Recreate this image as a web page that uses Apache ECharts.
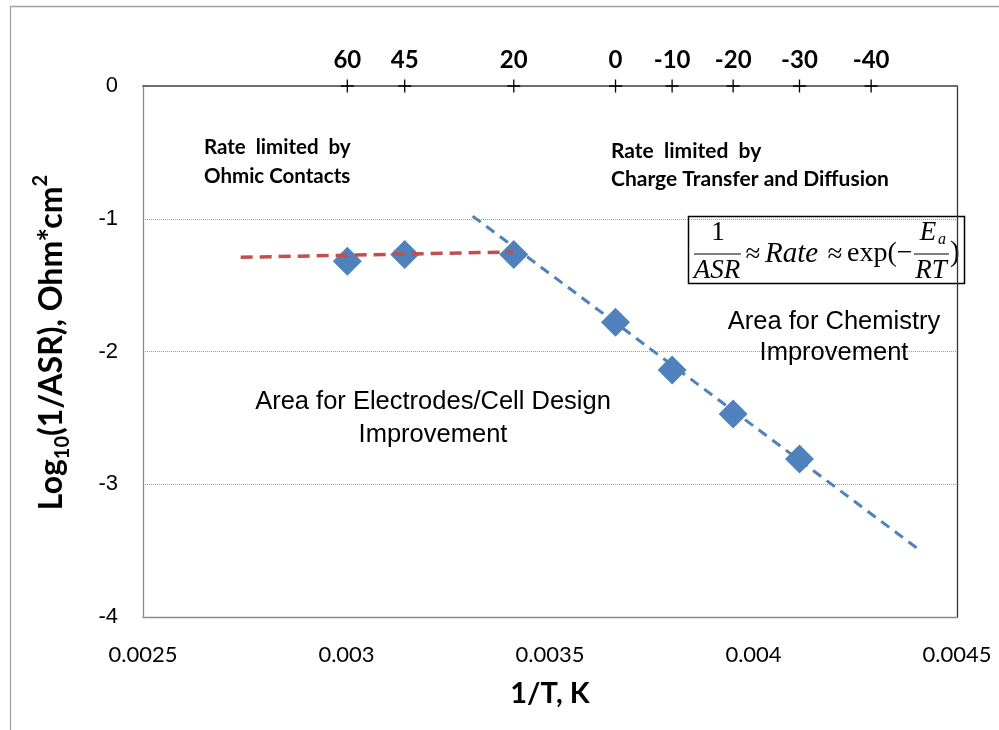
<!DOCTYPE html>
<html>
<head>
<meta charset="utf-8">
<script src="https://cdn.jsdelivr.net/npm/echarts@6/dist/echarts.min.js"></script>
<style>html,body{margin:0;padding:0;background:#fff;}#c{width:999px;height:730px;}</style>
</head>
<body>
<div id="c"></div>
<script>
// ---- data ----
const invT = [0.003002, 0.003143, 0.003411, 0.003661, 0.0038, 0.00395, 0.004113];
const logRate = [-1.32, -1.27, -1.27, -1.78, -2.14, -2.47, -2.81];
const ohmicFitX = [0.00274, 0.00341];
const ohmicFitY = [-1.29, -1.25];
const chargeFitX = [0.00331, 0.00441];
const chargeFitY = [-0.98, -3.50];
const tempLabels = ['60', '45', '20', '0', '-10', '-20', '-30', '-40'];
const tempInvT = [0.003002, 0.003143, 0.003411, 0.003661, 0.0038, 0.00395, 0.004113, 0.004289];
const xTicks = { min: 0.0025, max: 0.0045, interval: 0.0005 };
const yTicks = { min: -4, max: 0, interval: 1 };

const zip = (a, b) => a.map((v, i) => [v, b[i]]);
const chart = echarts.init(document.getElementById('c'));
const calibri = 'Lato, "Open Sans", sans-serif';
const arial = '"Liberation Sans", Arial, sans-serif';
const serif = '"Liberation Serif", "DejaVu Serif", serif';
const plusPath = 'path://M5.4,0h1.2v5.4h5.4v1.2h-5.4v5.4h-1.2v-5.4h-5.4v-1.2h5.4z';

function ftext(x, y, text, size, italic, align) {
  return { type: 'text', x: x, y: y, style: { text: text, align: align || 'center', verticalAlign: 'middle',
    fontFamily: serif, fontStyle: italic ? 'italic' : 'normal', fontSize: size, fill: '#000' } };
}

chart.setOption({
  animation: false,
  backgroundColor: '#fff',
  grid: { left: 143, right: 42, top: 86, bottom: 113 },
  xAxis: [{
    type: 'value', min: xTicks.min, max: xTicks.max, interval: xTicks.interval,
    name: '1/T, K', nameLocation: 'middle', nameGap: 62,
    nameTextStyle: { fontFamily: calibri, fontWeight: 'bold', fontSize: 29, color: '#000' },
    axisLine: { show: true, onZero: false, lineStyle: { color: '#8c8c8c', width: 1.3 } },
    axisTick: { show: false },
    splitLine: { show: false },
    axisLabel: { margin: 27, fontFamily: calibri, fontSize: 22, color: '#000',
      formatter: v => String(+v.toFixed(4)) }
  }, {
    type: 'value', position: 'top', min: xTicks.min, max: xTicks.max, interval: xTicks.interval,
    axisLine: { show: true, onZero: false, lineStyle: { color: '#6e6e6e', width: 2 } },
    axisTick: { show: false }, axisLabel: { show: false }, splitLine: { show: false }
  }],
  yAxis: [{
    type: 'value', min: yTicks.min, max: yTicks.max, interval: yTicks.interval,
    name: '{m|Log}{sub|10}{m|(1/ASR), Ohm*cm}{sup|2}',
    nameLocation: 'middle', nameGap: 70,
    nameTextStyle: {
      padding: [0, 0, 0, 18],
      rich: {
        m: { fontFamily: calibri, fontWeight: 'bold', fontSize: 32, color: '#000', lineHeight: 42, verticalAlign: 'middle' },
        sub: { fontFamily: calibri, fontWeight: 'bold', fontSize: 20, color: '#000', lineHeight: 20, verticalAlign: 'bottom' },
        sup: { fontFamily: calibri, fontWeight: 'bold', fontSize: 20, color: '#000', lineHeight: 20, verticalAlign: 'top' }
      }
    },
    axisLine: { show: true, onZero: false, lineStyle: { color: '#8c8c8c', width: 1.3 } },
    axisTick: { show: false },
    splitLine: { show: true, lineStyle: { color: '#9a9a9a', type: 'dotted', width: 1 } },
    axisLabel: { margin: 25, fontFamily: arial, fontSize: 22, color: '#000' }
  }, {
    type: 'value', position: 'right', min: yTicks.min, max: yTicks.max, interval: yTicks.interval,
    axisLine: { show: true, onZero: false, lineStyle: { color: '#333', width: 1.3 } },
    axisTick: { show: false }, axisLabel: { show: false }, splitLine: { show: false }
  }],
  series: [{
    name: 'measured', type: 'scatter', z: 2,
    symbol: 'diamond', symbolSize: 29,
    itemStyle: { color: '#4F81BD', opacity: 1 },
    data: zip(invT, logRate)
  }, {
    name: 'ohmic fit', type: 'line', z: 3, symbol: 'none',
    lineStyle: { color: '#C0504D', width: 3.5, type: [12, 7] },
    data: zip(ohmicFitX, ohmicFitY)
  }, {
    name: 'charge fit', type: 'line', z: 3, symbol: 'none',
    lineStyle: { color: '#4F81BD', width: 3, type: [10, 7] },
    data: zip(chargeFitX, chargeFitY)
  }, {
    name: 'temperature', type: 'scatter', z: 4, clip: false,
    symbol: plusPath, symbolSize: 13,
    itemStyle: { color: '#000', opacity: 1 },
    label: { show: true, position: 'top', distance: 7,
      fontFamily: calibri, fontWeight: 'bold', fontSize: 24, color: '#000',
      formatter: p => tempLabels[p.dataIndex] },
    data: tempInvT.map(v => [v, 0])
  }],
  graphic: [
    { type: 'rect', shape: { x: 10.5, y: 6.5, width: 1200, height: 1000 },
      style: { fill: 'none', stroke: '#a0a0a0', lineWidth: 1.3 }, silent: true, z: 0 },
    { type: 'text', left: 204, top: 133, z: 10,
      style: { text: 'Rate  limited  by\nOhmic Contacts', fontFamily: calibri, fontWeight: 'bold', fontSize: 20.5, lineHeight: 29, fill: '#000' } },
    { type: 'text', left: 611, top: 137, z: 10,
      style: { text: 'Rate  limited  by\nCharge Transfer and Diffusion', fontFamily: calibri, fontWeight: 'bold', fontSize: 21, lineHeight: 28, fill: '#000' } },
    { type: 'text', x: 433, y: 418, z: 10,
      style: { text: 'Area for Electrodes/Cell Design\nImprovement', align: 'center', verticalAlign: 'middle',
        fontFamily: arial, fontSize: 25.5, lineHeight: 33, fill: '#000' } },
    { type: 'text', x: 834, y: 337, z: 10,
      style: { text: 'Area for Chemistry\nImprovement', align: 'center', verticalAlign: 'middle',
        fontFamily: arial, fontSize: 25.5, lineHeight: 31, fill: '#000' } },
    { type: 'group', z: 20, children: [
      { type: 'rect', shape: { x: 688.5, y: 216.5, width: 276, height: 67 },
        style: { fill: '#fff', stroke: '#000', lineWidth: 1.5 } },
      ftext(718, 233, '1', 27, false),
      { type: 'line', shape: { x1: 694, y1: 254, x2: 741, y2: 254 }, style: { stroke: '#000', lineWidth: 1.2 } },
      ftext(717, 271, 'ASR', 27, true),
      ftext(753, 255, '≈', 27, false),
      ftext(765, 254, 'Rate', 29, true, 'left'),
      ftext(835, 255, '≈', 27, false),
      ftext(847, 254, 'exp(−', 28, false, 'left'),
      { type: 'line', shape: { x1: 914, y1: 254, x2: 949, y2: 254 }, style: { stroke: '#000', lineWidth: 1.2 } },
      ftext(928, 233, 'E', 27, true),
      ftext(942, 240, 'a', 16, true),
      ftext(931, 271, 'RT', 27, true),
      ftext(950, 253, ')', 29, false, 'left')
    ] }
  ]
});
</script>
</body>
</html>
